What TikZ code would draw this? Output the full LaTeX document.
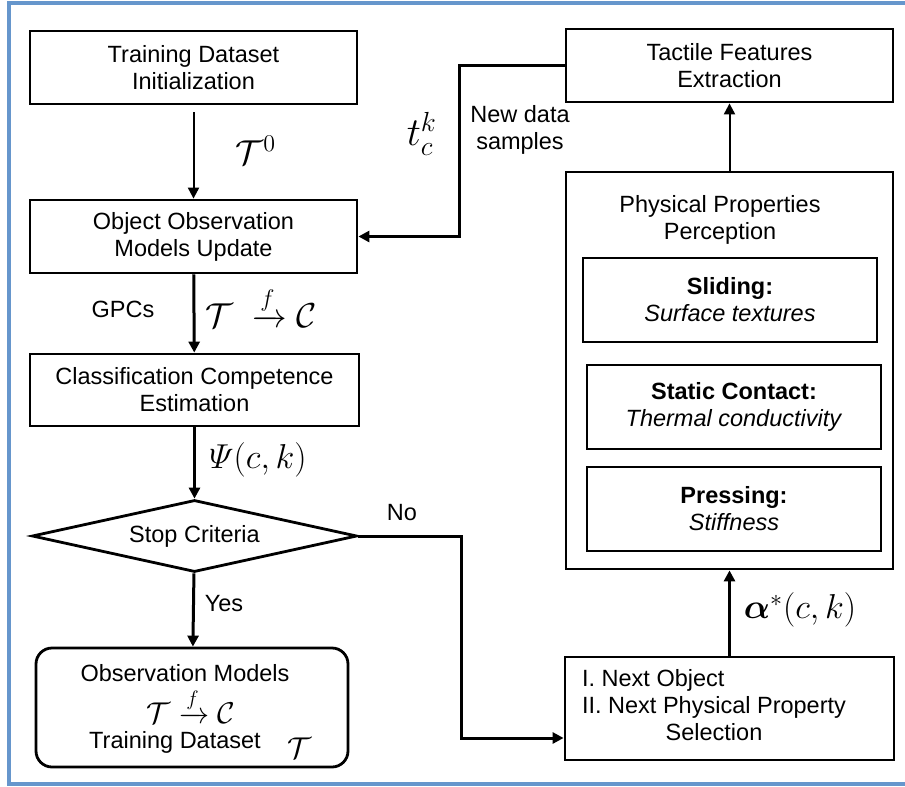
\documentclass[tikz,border=0pt]{standalone}
\usepackage{amsmath,amssymb,bm}
\usepackage[no-math]{fontspec}
\setmainfont{Liberation Sans}
\usetikzlibrary{arrows.meta,shapes.geometric}
\definecolor{framecol}{RGB}{102,150,204}

\begin{document}
\begin{tikzpicture}[x=1pt, y=-1pt,
        font=\fontsize{23.5}{27}\selectfont,
        every node/.style={align=center},
        box/.style={draw, line width=2.8pt, minimum width=#1, inner sep=0pt},
        box/.default=327pt,
        thinarrow/.style={line width=2pt, -{Triangle[length=11pt,width=11pt]}},
        thickarrow/.style={line width=3pt, -{Triangle[length=11pt,width=11pt]}},
        mathlbl/.style={font=\fontsize{17.28}{20}\selectfont, scale=2, inner sep=0pt}
    ]

    % page and outer frame
    \useasboundingbox (0,0) rectangle (905,787);
    \clip (0,0) rectangle (905,787);
    \draw[framecol, line width=4pt] (9.3,3.2) rectangle (930,784);

    % left column
    \node[box, minimum height=73pt] (init) at (193.5,67.5) {Training Dataset\\Initialization};
    \node[box, minimum height=73pt] (update) at (193.5,236.5) {Object Observation\\Models Update};
    \node[box=329pt, minimum height=72pt] (compet) at (194.5,390) {Classification Competence\\Estimation};
    \node[diamond, draw, line width=2.8pt, minimum width=325pt, minimum height=72pt,
          shape aspect=4.5, inner sep=0pt] (stop) at (194.5,536) {Stop Criteria};
    \node[box=312pt, minimum height=119pt, rounded corners=16pt] (result) at (192,707.5) {};
    \node (resulttop) at (185,673) {Observation Models};
    \node[mathlbl, scale=0.87] (resultmap) at (191,706) {$\mathcal{T}\xrightarrow{f}\mathcal{C}$};
    \node (resultbot) at (175,742) {Training Dataset};
    \node[mathlbl, scale=0.87] (resultset) at (300,748) {$\mathcal{T}$};

    % right column
    \node[box, minimum height=73pt] (tactile) at (729.5,65.5) {Tactile Features\\Extraction};
    \node[box, minimum height=397pt] (percep) at (729.5,370.5) {};
    \node (perceptxt) at (720,220) {Physical Properties\\Perception};
    \node[box=294pt, minimum height=84pt] (slide) at (730,300) {\textbf{Sliding:}\\\textit{Surface textures}};
    \node[box=294pt, minimum height=84pt] (static) at (734,407) {\textbf{Static Contact:}\\\textit{Thermal conductivity}};
    \node[box=294pt, minimum height=84pt] (press) at (734,509) {\textbf{Pressing:}\\\textit{Stiffness}};
    \node[box=329pt, minimum height=103pt] (select) at (729.5,708.5) {};
    \node[inner sep=0pt] (selecttxt) at (714,708.5)
        {\begin{tabular}{@{}l@{}}I. Next Object\\II. Next Physical Property\\\multicolumn{1}{@{}c@{}}{Selection}\end{tabular}};

    % connectors
    \draw[thinarrow, shorten <=7pt] (init) -- (update);
    \draw[thickarrow] (update) -- (compet);
    \draw[thickarrow] (compet) -- (stop);
    \draw[thickarrow] (stop) -- (result);
    \draw[thickarrow] (stop.east) -- ++(103.5,0) |- ([yshift=-29.5pt]select.west);
    \draw[thickarrow] (tactile.west) -- ++(-105,0) |- (update.east);
    \draw[thinarrow] (percep) -- (tactile);
    \draw[thickarrow] (select) -- (percep);

    % labels
    \node[mathlbl] (tzero) at (256,150) {$\mathcal{T}^0$};
    \node (gpcs) at (123,309) {GPCs};
    \node[mathlbl] (tmap) at (261,307) {$\mathcal{T}\;\xrightarrow{f}\mathcal{C}$};
    \node[mathlbl] (psi) at (258,460) {$\varPsi(c,k)$};
    \node (no) at (402,513) {No};
    \node (yes) at (224,604) {Yes};
    \node[mathlbl, scale=1.15] (tck) at (422,134) {$t_c^k$};
    \node (newdata) at (520,130) {New data\\samples};
    \node[mathlbl] (alpha) at (800,610) {$\bm{\alpha}^*(c,k)$};

\end{tikzpicture}
\end{document}
